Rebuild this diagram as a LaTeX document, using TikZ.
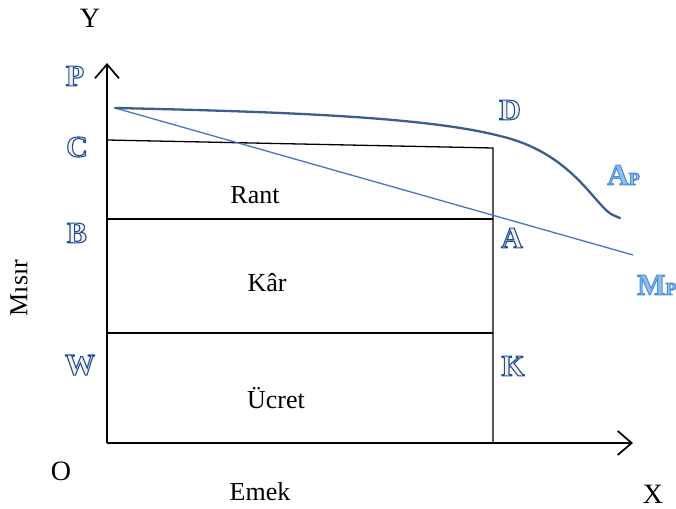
\documentclass[tikz,border=0pt]{standalone}
\usepackage{fontspec}
\setmainfont{Liberation Serif}
\usetikzlibrary{arrows.meta}
\definecolor{lblblue}{HTML}{1F4E9A}
\definecolor{lightblue}{HTML}{5B9BD5}
\definecolor{curveblue}{HTML}{3B5E8F}
\definecolor{lineblue}{HTML}{4677BE}
\newcommand\outltxt[1]{\special{pdf:code q 2 Tr 1.1 w 0.12 0.30 0.62 RG 0.97 0.95 0.88 rg}#1\special{pdf:code Q}}
\newcommand\outllight[1]{\special{pdf:code q 2 Tr 1.0 w 0.30 0.55 0.85 RG 0.55 0.75 0.93 rg}#1\special{pdf:code Q}}
\tikzset{
  axis/.style={line width=1.7pt, -{Straight Barb[length=14pt,width=24pt,line width=1.7pt]}},
  box/.style={line width=1.3pt, black},
  txt/.style={font=\fontsize{26}{30}\selectfont, inner sep=0pt},
  bigtxt/.style={font=\fontsize{28}{32}\selectfont, inner sep=0pt},
  lbl/.style={font=\fontsize{30}{34}\selectfont\bfseries, inner sep=0pt, text=lblblue},
  lbll/.style={font=\fontsize{30}{34}\selectfont\bfseries, inner sep=0pt, text=lightblue}
}
\begin{document}
\begin{tikzpicture}[x=1pt,y=-1pt]
\useasboundingbox (0,0) rectangle (676,508);
% coordinates
\coordinate (O) at (107,443);
\coordinate (Ytop) at (107,63);
\coordinate (Xend) at (633,443);
\coordinate (Ctl) at (107,140);
\coordinate (Ctr) at (493,148);
\coordinate (Bl) at (107,219);
\coordinate (Br) at (493,219);
\coordinate (Wl) at (107,333);
\coordinate (Wr) at (493,333);
\coordinate (Kb) at (493,443);
\coordinate (S) at (115,108);
\coordinate (Mend) at (633,255);
\coordinate (Dmid) at (500,136);
\coordinate (Hook) at (603,207);
\coordinate (Aend) at (620,218);
% rectangle lines
\draw[box] (Ctl) -- (Ctr) -- (Kb);
\draw[box] (Bl) -- (Br);
\draw[box] (Wl) -- (Wr);
% curves
\draw[lineblue, line width=1.3pt] (S) -- (Mend);
\draw[curveblue, line width=2.3pt, line cap=round] (S) .. controls (300,112) and (430,118) .. (Dmid) .. controls (560,150) and (585,188) .. (Hook) .. controls (610,214) .. (Aend);
% axes
\draw[axis] (O) -- (Ytop);
\draw[axis] (O) -- (Xend);
% texts
\node[bigtxt] (ty) at (90,18) {Y};
\node[bigtxt] (to) at (61,471) {O};
\node[bigtxt] (tx) at (653,494) {X};
\node[txt] (te) at (260,492) {Emek};
\node[txt, rotate=90] (tm) at (19,288) {Mısır};
\node[txt] (tr) at (255,195) {Rant};
\node[txt] (tk) at (267,283) {Kâr};
\node[txt] (tu) at (276,398) {Ücret};
% labels
\node[lbl] (lp) at (75,76) {\outltxt{P}};
\node[lbl] (lc) at (77,147) {\outltxt{C}};
\node[lbl] (lb) at (77,233) {\outltxt{B}};
\node[lbl] (lw) at (80,365) {\outltxt{W}};
\node[lbl] (ld) at (510,110) {\outltxt{D}};
\node[lbl] (la) at (512,238) {\outltxt{A}};
\node[lbl] (lk) at (513,366) {\outltxt{K}};
\node[lbll, anchor=west] (lap) at (607,175) {\outllight{A{\fontsize{18}{20}\selectfont P}}};
\node[lbll, anchor=west] (lmp) at (637,285) {\outllight{M{\fontsize{18}{20}\selectfont P}}};
\end{tikzpicture}
\end{document}
